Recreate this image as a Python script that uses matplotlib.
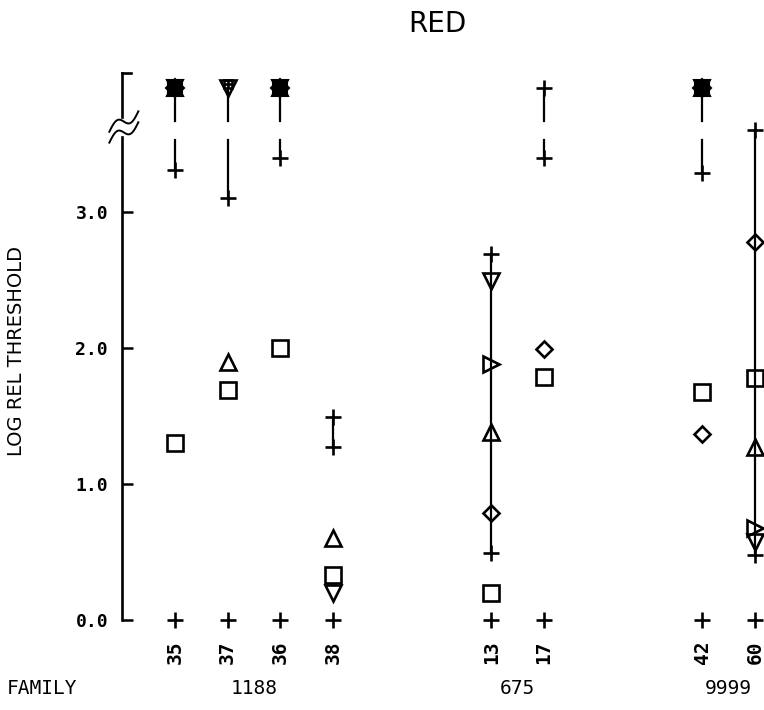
import numpy as np
import matplotlib
matplotlib.use("Agg")
import matplotlib.pyplot as plt

# subjects (column labels) and where they sit along the axis
subjects = ['35', '37', '36', '38', '13', '17', '42', '60']
pos = [1, 2, 3, 4, 7, 8, 11, 12]
families = ['1188', '675', '9999']
family_cols = [[1, 2, 3, 4], [7, 8], [11, 12]]

# value used for "off scale" points drawn above the break
TOP = 3.91
BRK_LO, BRK_HI = 3.53, 3.67

# open symbols: (column, log rel threshold)
squares = [(1, 1.30), (2, 1.69), (3, 2.00), (4, 0.33), (7, 0.20), (8, 1.79), (11, 1.68), (12, 1.78)]
tri_up = [(2, 1.90), (4, 0.60), (7, 1.38), (12, 1.27)]
tri_down = [(4, 0.20), (7, 2.49), (12, 0.57)]
tri_right = [(7, 1.88), (12, 0.68)]
diamonds = [(7, 0.79), (8, 1.99), (11, 1.37), (12, 2.78)]

# ranges drawn as + ... + (upper end may be off scale)
range_lo = [3.31, 3.10, 3.40, 1.27, 0.49, 3.40, 3.29, 0.48]
range_hi = [TOP, TOP, TOP, 1.49, 2.69, TOP, TOP, 3.60]
top_marker = ['blob', 'vtri', 'blob', None, None, 'plus', 'blob', None]

fig = plt.figure(figsize=(7.64, 7.10), dpi=100)
ax = fig.add_axes([122/764, 56/710, 642/764, 612/710])
ax.set_xlim(0, 12.17)
ax.set_ylim(-0.25, 4.25)
for s in ax.spines.values():
    s.set_visible(False)
ax.set_xticks([])
ax.set_yticks([0, 1, 2, 3])
ax.set_yticklabels(['0.0', '1.0', '2.0', '3.0'], family='DejaVu Sans Mono',
                   fontweight='bold', fontsize=13)
ax.tick_params(axis='y', direction='in', length=8, width=1.8, pad=10)

k = dict(color='black', clip_on=False)
# y axis with break
ax.plot([0, 0], [0, 3.55], lw=1.9, **k)
ax.plot([0, 0], [3.70, 4.02], lw=1.9, **k)
ax.plot([0, 0.17], [4.02, 4.02], lw=1.9, **k)
t = np.linspace(0, 1, 50)
for y0 in (3.59, 3.51):
    xs = -0.24 + 0.55 * t
    ys = y0 + 0.15 * t + 0.045 * np.sin(2 * np.pi * t)
    ax.plot(xs, ys, lw=1.4, **k)

ms = dict(mfc='none', mec='black', mew=1.9, ls='none', clip_on=False)

# range lines, split at the axis break
for x, lo, hi in zip(pos, range_lo, range_hi):
    if hi > BRK_HI:
        ax.plot([x, x], [lo, BRK_LO], lw=1.6, **k)
        ax.plot([x, x], [BRK_HI, hi], lw=1.6, **k)
    else:
        ax.plot([x, x], [lo, hi], lw=1.6, **k)
    ax.plot([x], [lo], marker='+', ms=12, **ms)
    if hi < TOP:
        ax.plot([x], [hi], marker='+', ms=12, **ms)

for x, m in zip(pos, top_marker):
    if m == 'blob':
        for mk, sz in (('^', 12), ('v', 12), ('s', 10), ('D', 9)):
            ax.plot([x], [TOP], marker=mk, ms=sz, mfc='black', mec='black',
                    mew=1.5, ls='none', clip_on=False)
    elif m == 'vtri':
        ax.plot([x], [TOP], marker='v', ms=12, **ms)
        ax.plot([x], [TOP + 0.03], marker='s', ms=6, **ms)
        ax.plot([x], [TOP + 0.03], marker='+', ms=6, **ms)
    elif m == 'plus':
        ax.plot([x], [TOP], marker='+', ms=12, **ms)

# baseline + under every column
ax.plot(pos, [0] * len(pos), marker='+', ms=12, **ms)

for data, mk, sz in ((squares, 's', 12), (tri_up, '^', 12), (tri_down, 'v', 12),
                     (tri_right, '>', 11), (diamonds, 'D', 8.5)):
    xs = [d[0] for d in data]
    ys = [d[1] for d in data]
    ax.plot(xs, ys, marker=mk, ms=sz, **ms)

for x, s in zip(pos, subjects):
    ax.text(x, -0.235, s, rotation=90, ha='center', va='center', fontsize=14,
            fontweight='bold', family='DejaVu Sans Mono')

for name, cols in zip(families, family_cols):
    ax.text(np.mean(cols), -0.5, name, ha='center', va='center', fontsize=14,
            family='DejaVu Sans Mono')
fig.text(7/764, 1 - 688/710, 'FAMILY', ha='left', va='center', fontsize=14,
         family='DejaVu Sans Mono')

fig.text(437/764, 1 - 24/710, 'RED', ha='center', va='center', fontsize=20)
fig.text(17/764, 1 - 351/710, 'LOG REL THRESHOLD', rotation=90, ha='center',
         va='center', fontsize=14)

fig.savefig('out.png', dpi=100)
